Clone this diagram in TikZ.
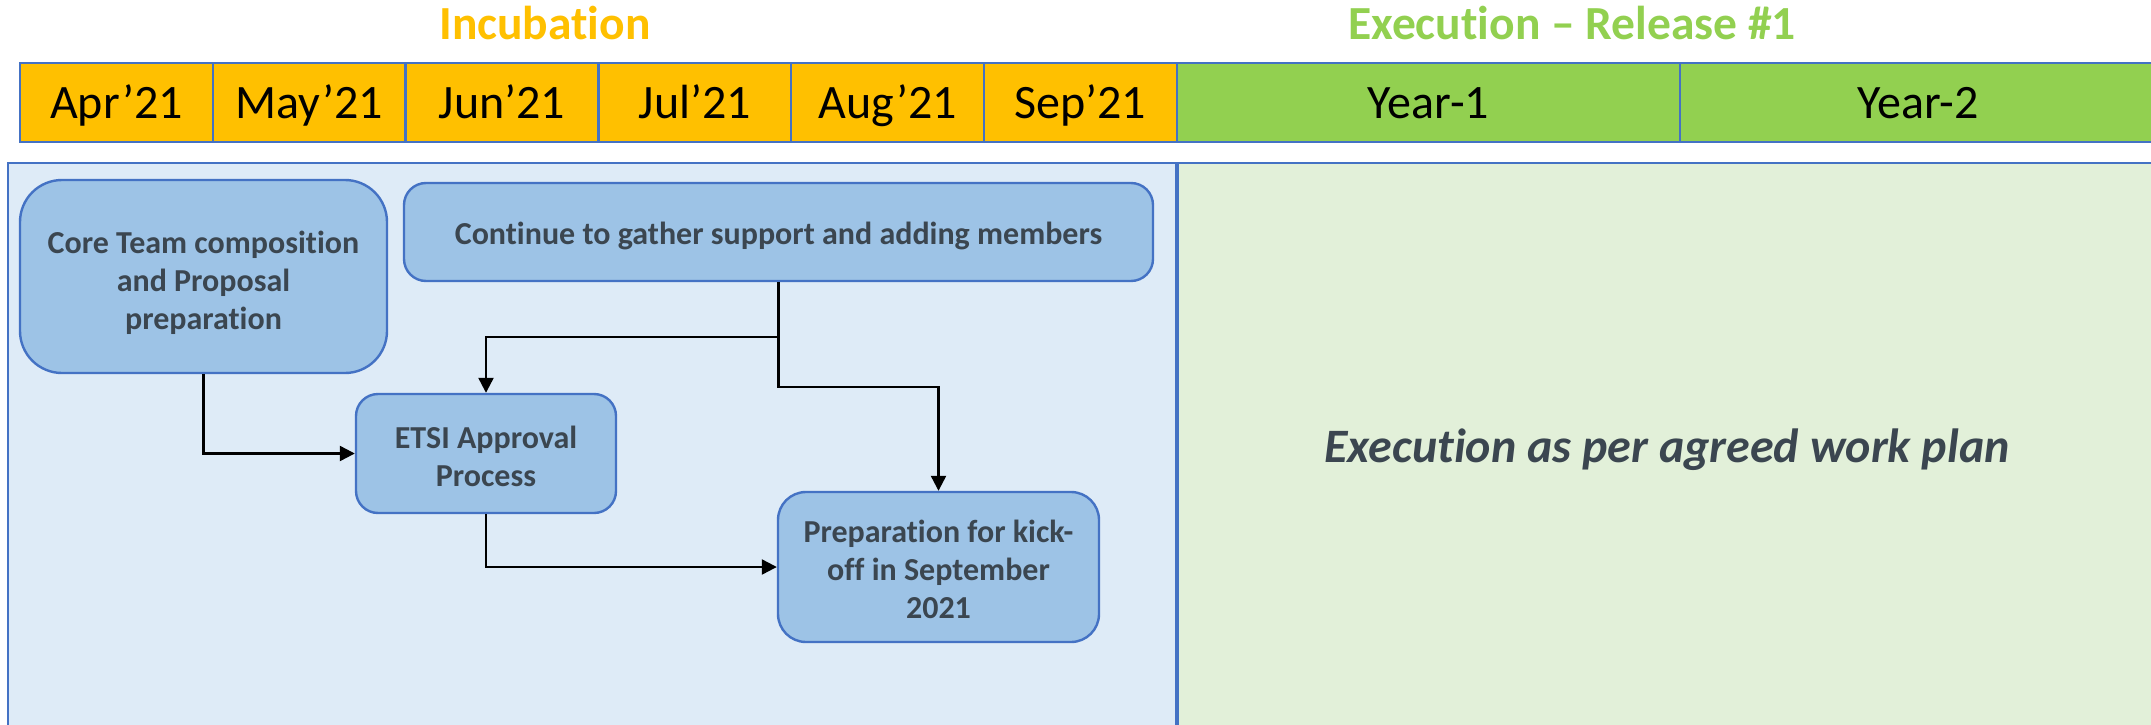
\documentclass[tikz,border=0pt]{standalone}
\usepackage{fontspec}
\setmainfont{Carlito}[Ligatures=NoCommon]
\usetikzlibrary{arrows.meta}
\definecolor{orng}{HTML}{FFC000}
\definecolor{grn}{HTML}{92D050}
\definecolor{bdr}{HTML}{4472C4}
\definecolor{pblue}{HTML}{DEEBF7}
\definecolor{pgreen}{HTML}{E2F0D9}
\definecolor{boxf}{HTML}{9DC3E6}
\definecolor{txt}{HTML}{3B4650}
\tikzset{
  month/.style={draw=bdr, line width=2.4pt, fill=orng, minimum width=192.8pt, minimum height=79pt,
    inner sep=0pt, text depth=0pt, text height=31pt, font=\fontsize{48}{58}\selectfont},
  yearcell/.style={month, fill=grn},
  title/.style={anchor=base, font=\fontsize{47.5}{57}\selectfont\bfseries},
  task/.style={draw=bdr, line width=2.4pt, fill=boxf, inner sep=0pt},
  tasktext/.style={inner sep=0pt, align=center, text=txt, font=\fontsize{32}{38}\selectfont\bfseries},
  arr/.style={draw=black, line width=2.3pt, -{Triangle[length=15pt,width=15pt]}},
  panel/.style={draw=bdr, line width=2pt}
}
\begin{document}
\begin{tikzpicture}[x=1pt,y=-1pt]
\useasboundingbox (0,0) rectangle (2151,725);
\fill[white] (0,0) rectangle (2151,725);
% titles
\node[title, text=orng] (tinc) at (545,40) {Incubation};
\node[title, text=grn] (texe) at (1572,40) {Execution -- Release \#1};
% panels
\draw[panel, fill=pblue] (8,163) rectangle (1177,740);
\draw[panel, fill=pgreen] (1177,163) rectangle (2160,740);
\draw[draw=bdr, line width=4pt] (1177,163) -- (1177,740);
% month bar
\node[month] (m1) at (116.4,102.5) {Apr’21};
\node[month] (m2) at (309.2,102.5) {May’21};
\node[month] (m3) at (502.0,102.5) {Jun’21};
\node[month] (m4) at (694.8,102.5) {Jul’21};
\node[month] (m5) at (887.6,102.5) {Aug’21};
\node[month] (m6) at (1080.4,102.5) {Sep’21};
\node[yearcell, minimum width=503pt] (y1) at (1428.5,102.5) {Year-1};
\node[yearcell, minimum width=476pt] (y2) at (1918,102.5) {Year-2};
% tasks
\node[task, rounded corners=42pt, minimum width=367pt, minimum height=193pt] (core) at (203.5,276.5) {};
\node[task, rounded corners=22pt, minimum width=749pt, minimum height=98pt] (cont) at (778.5,232) {};
\node[task, rounded corners=22pt, minimum width=260pt, minimum height=119pt] (etsi) at (486,453.5) {};
\node[task, rounded corners=28pt, minimum width=321pt, minimum height=150pt] (prep) at (938.5,567) {};
\node[tasktext] (coret) at ([yshift=-6pt]core.center) {Core Team composition\\and Proposal\\preparation};
\node[tasktext] (contt) at ([yshift=-4pt]cont.center) {Continue to gather support and adding members};
\node[tasktext] (etsit) at ([yshift=-3pt]etsi.center) {ETSI Approval\\Process};
\node[tasktext] (prept) at ([yshift=-2pt]prep.center) {Preparation for kick-\\off in September\\2021};
% execution text
\node[anchor=base, text=txt, font=\fontsize{48}{58}\selectfont\bfseries\itshape] (plan) at (1667,462)
  {Execution as per agreed work plan};
% connectors
\coordinate (ya) at (0,337);
\coordinate (yb) at (0,387);
\draw[arr] (core.south) |- (etsi.west);
\draw[arr] (cont.south) -- (cont.south |- ya) -| (etsi.north);
\draw[arr] (cont.south) -- (cont.south |- yb) -| (prep.north);
\draw[arr] (etsi.south) |- (prep.west);
\end{tikzpicture}
\end{document}
